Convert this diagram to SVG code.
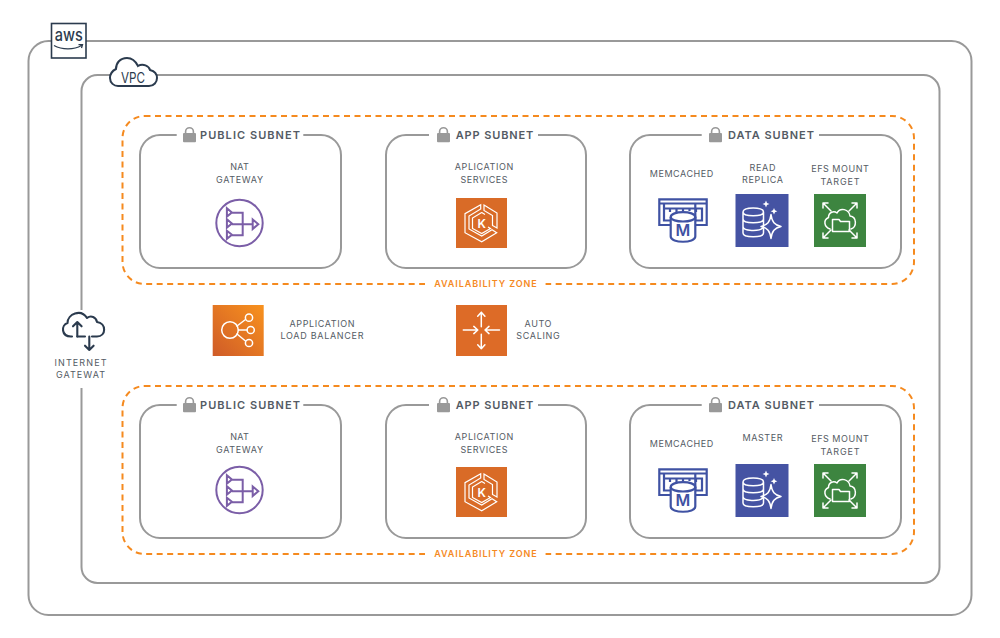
<svg xmlns="http://www.w3.org/2000/svg" width="1000" height="638" viewBox="0 0 1000 638">
<style>
text{font-family:"Inter","Open Sans","Liberation Sans",sans-serif}
.frame{fill:none;stroke:#999;stroke-width:2}
.az{fill:none;stroke:#f58a1f;stroke-width:2;stroke-dasharray:6 4.5}
.gap{fill:#fff;stroke:none}
.title{font-size:11px;font-weight:600;fill:#545b64;text-anchor:middle}
.label{font-size:9px;font-weight:400;fill:#545b64;text-anchor:middle}
.azt{font-size:9px;font-weight:600;fill:#f58a1f;text-anchor:middle}
.lock{fill:#999}
.wl{fill:none;stroke:#fff;stroke-width:1.5;stroke-linejoin:round;stroke-linecap:round}
.wt{fill:none;stroke:#fff;stroke-width:1.2;stroke-linejoin:miter}
.nat{fill:none;stroke:#7b5ea7;stroke-width:2}
.mem{fill:none;stroke:#3f52a3;stroke-width:2.2}
.dark{fill:none;stroke:#2b3b4e;stroke-width:2.1;stroke-linecap:round;stroke-linejoin:round}
</style>
<defs>
<linearGradient id="albg" x1="0" y1="1" x2="1" y2="0"><stop offset="0" stop-color="#cf5b28"/><stop offset="1" stop-color="#f8921e"/></linearGradient>
<g id="lock"><path class="lock" d="M1.800 6.500V4.600a4.700 4.700 0 0 1 9.400 0V6.500H9.600V4.700a3.100 3.100 0 0 0-6.200 0V6.500Z"/><rect class="lock" x="0" y="6" width="13" height="9.200" rx="1"/></g>
<g id="nat">
<circle class="nat" cx="0" cy="0" r="23.200"/>
<path class="nat" d="M-12.600-14.800l5 4.200-5 4.200ZM-12.600-3.800l5 4.200-5 4.200ZM-12.600 7.800l5 4-5 4ZM-7.600-10.300H3.200V12.200H-7.600M-7.600 1.200H13.200M13.200-3.600l5.600 4.800-5.600 4.800Z"/>
</g>
<g id="eks">
<rect width="51" height="50" fill="#d96b27"/>
<path class="wt" d="M24.700 6.700 9 15.700V34.700L25.700 43.800 40.700 34.700 36 31.700 25.700 38 13 31V18L24.700 11ZM28 7 41 15V30L36.500 27.500V17.500L28 12.500Z"/>
<path class="wt" d="M25.700 14.500 16.500 20V30.500L25.700 35.500 34.500 30.500 32 29M25.700 14.500 29 16.500"/>
<text x="25.700" y="29.500" font-size="12" font-weight="600" fill="#fff" text-anchor="middle">K</text>
</g>
<g id="mem">
<path class="mem" d="M12.700 27H1.300V1.300H48.700V27H37.300M1.300 5.500H48.700"/>
<path class="mem" d="M12.700 22.500H6V6M6 10.500H12V14M12 10.500H18.500V14M18.500 10.500H25V13M25 10.500H31.500V13M31.500 10.500H38V14M38 10.500H44V22.500H37.300V6" />
<path d="M12.700 19C12.700 12.500 37.300 12.500 37.300 19V38.500C37.300 45.500 12.700 45.500 12.700 38.500Z" fill="#fff" stroke="#3f52a3" stroke-width="2.200"/>
<path class="mem" d="M12.700 19C12.700 25 37.300 25 37.300 19"/>
<text x="25" y="38" font-size="16" font-weight="600" fill="#3f52a3" text-anchor="middle">M</text>
</g>
<g id="rds">
<rect width="53" height="53" fill="#4553a3"/>
<path class="wl" d="M7.500 18C7.500 12.500 28 12.500 28 18V39C28 44 7.500 44 7.500 39ZM7.500 18C7.500 23 28 23 28 18M7.500 25C7.500 30 28 30 28 25M7.500 32.500C7.500 37.500 24 37.500 27 34"/>
<path class="wl" d="M35.500 20.500C36.500 28 39 31 45.500 32.500C39 34 36.500 37 35.500 44.500C34.500 37 32 34 25.500 32.500C32 31 34.500 28 35.500 20.500Z"/>
<path d="M30.500 6.500l1 2.500 2.500 1-2.500 1-1 2.500-1-2.500-2.500-1 2.500-1ZM38.500 14l1 2.300 2.300 1-2.300 1-1 2.300-1-2.300-2.300-1 2.300-1Z" fill="#fff"/>
</g>
<g id="efs">
<rect width="52" height="53" fill="#3d8540"/>
<path class="wl" d="M9 9 17 17M9 14V9H14M43 9 35 17M43 14V9H38M9 44 17 36M9 39V44H14M43 44 35 36M43 39V44H38"/>
<path class="wl" d="M16 35C10 33 9 26 14.500 23.500C14.500 18 20 16.500 23 19C26 13 35 15 36 22C43 23 43 33 37 35"/>
<path class="wl" d="M18.500 28.500V37.500H35.500V27.500H26.500L25 25.500H18.500Z"/>
</g>
<g id="scale-arrow"><path class="wl" d="M0 0V-14.500M-3.600-10.500 0-14.500 3.600-10.500"/></g>
</defs>

<rect id="region-aws" class="frame" x="28.500" y="41" width="943" height="574" rx="20"/>
<g id="aws-logo">
<rect x="51.500" y="23.500" width="34.500" height="34.500" fill="#fff" stroke="#2b3b4e" stroke-width="1.600"/>
<text x="68.700" y="41" font-size="18" font-weight="500" fill="#2b3b4e" text-anchor="middle" textLength="28" lengthAdjust="spacingAndGlyphs">aws</text>
<path d="M54 45.500C62 50 74 50 81.500 45.500M78.500 44.700 82.500 44.700 81.500 48" fill="none" stroke="#2b3b4e" stroke-width="1.300"/>
</g>
<rect id="region-vpc" class="frame" x="81.500" y="75" width="858" height="508" rx="16"/>
<g id="vpc-logo">
<path d="M118 86H149C154 86 157 82 157 78C157 74 154 71 150 70C149 66 143 63 138 66C135 60 131 58 127 58C120 58 116 63 116 69C112 71 110 74 110 78C110 83 114 86 118 86Z" fill="#fff" stroke="#2b3b4e" stroke-width="2"/>
<text x="133" y="83" font-size="15" fill="#2b3b4e" text-anchor="middle" textLength="24" lengthAdjust="spacingAndGlyphs">VPC</text>
</g>

<g id="zone-top">
<rect class="az" x="122.500" y="116" width="791.500" height="168" rx="22"/>
<rect class="gap" x="425" y="276" width="120.500" height="16"/>
<text class="azt" x="485.500" y="287" textLength="102.500">AVAILABILITY ZONE</text>
</g>
<g id="zone-bottom">
<rect class="az" x="122.500" y="386" width="791.500" height="168" rx="22"/>
<rect class="gap" x="425" y="546" width="120.500" height="16"/>
<text class="azt" x="485.500" y="557" textLength="102.500">AVAILABILITY ZONE</text>
</g>

<g id="public-subnet-top">
<rect class="frame" x="140" y="135" width="201" height="133" rx="20"/>
<rect class="gap" x="176.700" y="126" width="126.600" height="18"/>
<use href="#lock" x="183" y="127"/>
<text class="title" x="250" y="139.300" textLength="100">PUBLIC SUBNET</text>
<text class="label" x="239.500" y="170" textLength="18.500">NAT</text>
<text class="label" x="239.500" y="182.700" textLength="47">GATEWAY</text>
<use href="#nat" x="239.500" y="223"/>
</g>
<g id="app-subnet-top">
<rect class="frame" x="386" y="135" width="200" height="133" rx="20"/>
<rect class="gap" x="429" y="126" width="109" height="18"/>
<use href="#lock" x="437" y="127"/>
<text class="title" x="494.500" y="139.300" textLength="77.500">APP SUBNET</text>
<text class="label" x="484" y="170" textLength="58.500">APLICATION</text>
<text class="label" x="484" y="182.700" textLength="47">SERVICES</text>
<use href="#eks" x="456" y="198"/>
</g>
<g id="data-subnet-top">
<rect class="frame" x="630" y="135" width="271" height="133" rx="20"/>
<rect class="gap" x="701.700" y="126" width="117.300" height="18"/>
<use href="#lock" x="709" y="127"/>
<text class="title" x="771" y="139.300" textLength="86">DATA SUBNET</text>
<text class="label" x="681.500" y="176.500" textLength="63.500">MEMCACHED</text>
<use href="#mem" x="658" y="198"/>
<text class="label" x="762.500" y="171" textLength="26">READ</text>
<text class="label" x="762.500" y="183" textLength="41">REPLICA</text>
<use href="#rds" x="735.500" y="194"/>
<text class="label" x="840" y="171.500" textLength="57.500">EFS MOUNT</text>
<text class="label" x="840" y="184.500" textLength="39">TARGET</text>
<use href="#efs" x="814" y="194"/>
</g>

<g id="public-subnet-bottom">
<rect class="frame" x="140" y="405" width="201" height="133" rx="20"/>
<rect class="gap" x="176.700" y="396" width="126.600" height="18"/>
<use href="#lock" x="183" y="397"/>
<text class="title" x="250" y="409.300" textLength="100">PUBLIC SUBNET</text>
<text class="label" x="239.500" y="440" textLength="18.500">NAT</text>
<text class="label" x="239.500" y="452.700" textLength="47">GATEWAY</text>
<use href="#nat" x="239.500" y="490"/>
</g>
<g id="app-subnet-bottom">
<rect class="frame" x="386" y="405" width="200" height="133" rx="20"/>
<rect class="gap" x="429" y="396" width="109" height="18"/>
<use href="#lock" x="437" y="397"/>
<text class="title" x="494.500" y="409.300" textLength="77.500">APP SUBNET</text>
<text class="label" x="484" y="440" textLength="58.500">APLICATION</text>
<text class="label" x="484" y="452.700" textLength="47">SERVICES</text>
<use href="#eks" x="456" y="467"/>
</g>
<g id="data-subnet-bottom">
<rect class="frame" x="630" y="405" width="271" height="133" rx="20"/>
<rect class="gap" x="701.700" y="396" width="117.300" height="18"/>
<use href="#lock" x="709" y="397"/>
<text class="title" x="771" y="409.300" textLength="86">DATA SUBNET</text>
<text class="label" x="681.500" y="446.500" textLength="63.500">MEMCACHED</text>
<use href="#mem" x="658" y="468"/>
<text class="label" x="762.500" y="441" textLength="40">MASTER</text>
<use href="#rds" x="735.500" y="464"/>
<text class="label" x="840" y="441.500" textLength="57.500">EFS MOUNT</text>
<text class="label" x="840" y="454.500" textLength="39">TARGET</text>
<use href="#efs" x="814" y="464"/>
</g>

<g id="internet-gateway">
<rect class="gap" x="55" y="310" width="52" height="78"/>
<path class="dark" d="M72 336.500H71C61 336.500 61 325 67.500 323C67.500 314 81 308.500 87 318C91 315 96 317 97 322C106.500 323 106.500 336.500 97 336.500H92M77.300 336.500H85"/>
<path class="dark" d="M77.300 336.500V322M73 326.300 77.300 322 81.600 326.300M89.300 336.500V350M85 345.700 89.300 350 93.600 345.700"/>
<text class="label" x="80.500" y="365.700" textLength="52">INTERNET</text>
<text class="label" x="80.500" y="377.700" textLength="49">GATEWAT</text>
</g>
<g id="load-balancer">
<rect x="212.700" y="305" width="51" height="51" fill="url(#albg)"/>
<path class="wl" d="M237 326 245.500 319.500M238.500 330H247M237 334 245.500 341"/>
<circle class="wl" cx="230" cy="330" r="8.300"/>
<circle class="wl" cx="249" cy="317.700" r="3.600"/>
<circle class="wl" cx="250.700" cy="330" r="3.600"/>
<circle class="wl" cx="249" cy="343" r="3.600"/>
<text class="label" x="322" y="327" textLength="65">APPLICATION</text>
<text class="label" x="322" y="339" textLength="83">LOAD BALANCER</text>
</g>
<g id="auto-scaling">
<rect x="456" y="305" width="51" height="51" fill="#dd6b27"/>
<use href="#scale-arrow" transform="translate(481.300 326.700)"/>
<use href="#scale-arrow" transform="translate(481.300 334.300) rotate(180)"/>
<use href="#scale-arrow" transform="translate(463.300 330) rotate(90)"/>
<use href="#scale-arrow" transform="translate(499.500 330) rotate(-90)"/>
<text class="label" x="538" y="327" textLength="27">AUTO</text>
<text class="label" x="538" y="339" textLength="43.500">SCALING</text>
</g>
</svg>
